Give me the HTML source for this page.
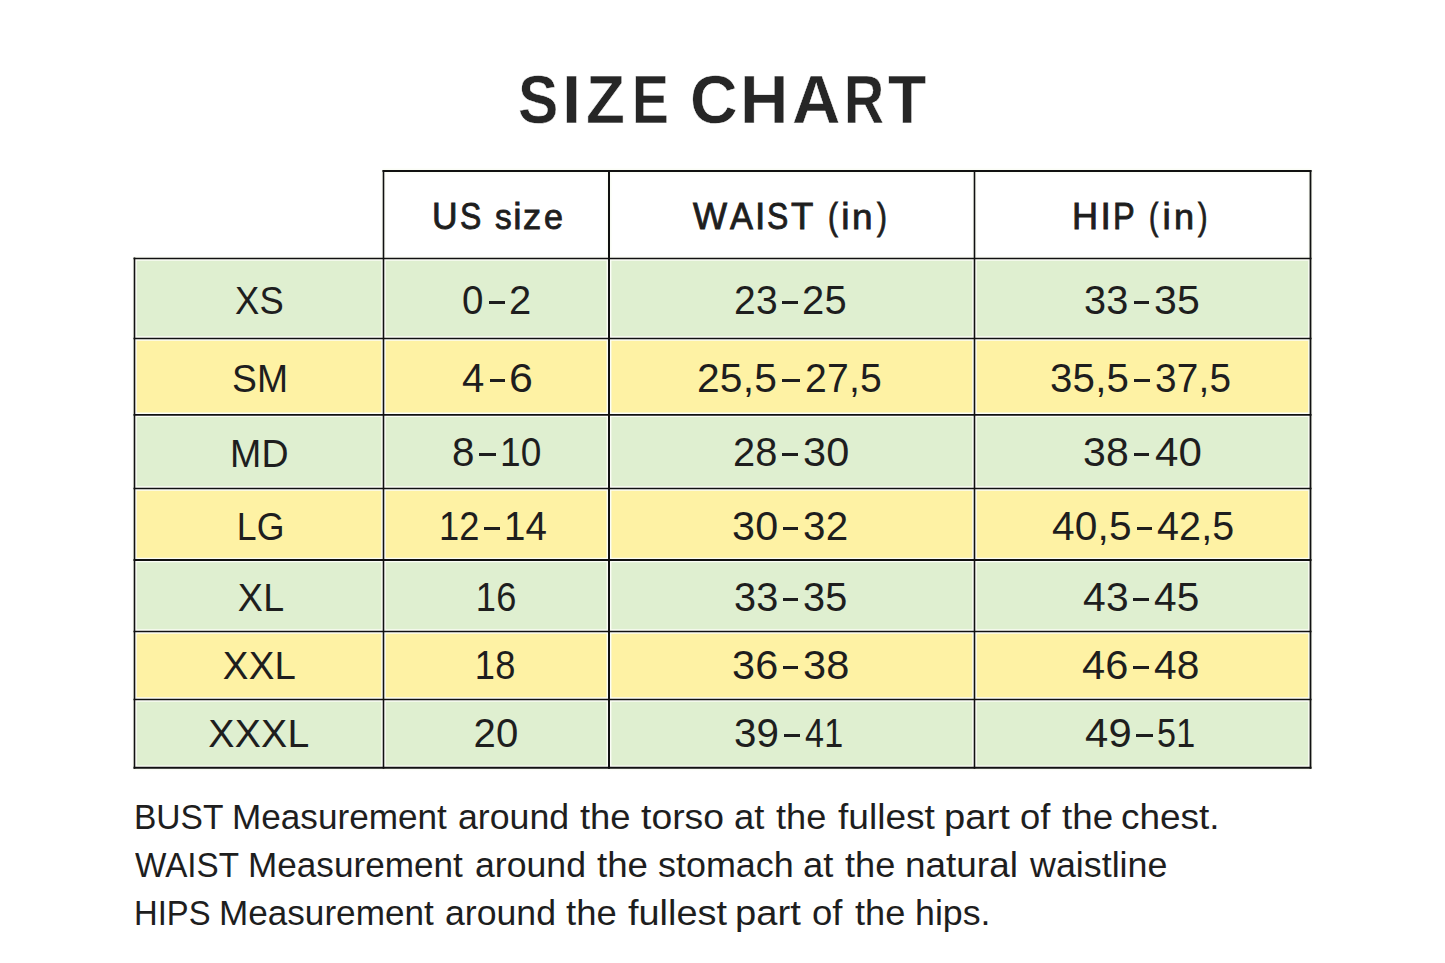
<!DOCTYPE html>
<html><head><meta charset="utf-8"><style>
html,body{margin:0;padding:0;background:#fff;}
body{width:1445px;height:963px;overflow:hidden;position:relative;font-family:"Liberation Sans",sans-serif;color:#1e1e1e;}
svg{position:absolute;left:0;top:0;}
.c{position:absolute;width:600px;text-align:center;white-space:nowrap;line-height:60px;}
.l{position:absolute;white-space:nowrap;line-height:60px;}
.b{font-size:39.5px;letter-spacing:0.2px;}
.bn{font-size:40.0px;letter-spacing:0.2px;}
.hg{position:absolute;line-height:100px;white-space:nowrap;transform-origin:0 0;font-size:37.3px;-webkit-text-stroke:0.9px #1e1e1e;}
.h{font-size:38.2px;letter-spacing:1.2px;-webkit-text-stroke:0.35px #1e1e1e;}
.fw{position:absolute;line-height:100px;white-space:nowrap;transform-origin:0 0;font-size:35.3px;}
.f{font-size:35.3px;letter-spacing:0.3px;}
.ti{position:absolute;line-height:100px;font-size:69.3px;font-weight:bold;color:#262626;-webkit-text-stroke:0.5px #fff;white-space:nowrap;}
.np{position:absolute;line-height:100px;white-space:nowrap;transform-origin:0 0;font-size:40.0px;letter-spacing:0.2px;}
.dd{position:absolute;height:3.1px;background:#1e1e1e;}
.d{display:inline-block;width:16.5px;height:3.1px;background:#1e1e1e;margin:0 4.6px;vertical-align:10.0px;}
</style></head><body>
<svg width="1445" height="963" viewBox="0 0 1445 963">
<rect x="134.5" y="258.5" width="1176.0" height="80.00" fill="#dfefd0"/>
<rect x="134.5" y="338.5" width="1176.0" height="76.35" fill="#fef2a4"/>
<rect x="134.5" y="414.85" width="1176.0" height="73.65" fill="#dfefd0"/>
<rect x="134.5" y="488.5" width="1176.0" height="71.50" fill="#fef2a4"/>
<rect x="134.5" y="560" width="1176.0" height="71.50" fill="#dfefd0"/>
<rect x="134.5" y="631.5" width="1176.0" height="68.00" fill="#fef2a4"/>
<rect x="134.5" y="699.5" width="1176.0" height="68.30" fill="#dfefd0"/>
<line x1="382.5" y1="171" x2="1311.5" y2="171" stroke="#fbfdf6" stroke-width="4.8"/>
<line x1="133.5" y1="258.5" x2="1311.5" y2="258.5" stroke="#fbfdf6" stroke-width="4.4"/>
<line x1="133.5" y1="338.5" x2="1311.5" y2="338.5" stroke="#fbfdf6" stroke-width="4.4"/>
<line x1="133.5" y1="414.85" x2="1311.5" y2="414.85" stroke="#fbfdf6" stroke-width="4.5"/>
<line x1="133.5" y1="488.5" x2="1311.5" y2="488.5" stroke="#fbfdf6" stroke-width="4.4"/>
<line x1="133.5" y1="560" x2="1311.5" y2="560" stroke="#fbfdf6" stroke-width="4.6"/>
<line x1="133.5" y1="631.5" x2="1311.5" y2="631.5" stroke="#fbfdf6" stroke-width="4.3"/>
<line x1="133.5" y1="699.5" x2="1311.5" y2="699.5" stroke="#fbfdf6" stroke-width="4.4"/>
<line x1="133.5" y1="767.8" x2="1311.5" y2="767.8" stroke="#fbfdf6" stroke-width="4.8"/>
<line x1="134.5" y1="257.5" x2="134.5" y2="768.8" stroke="#fbfdf6" stroke-width="4.4"/>
<line x1="383.5" y1="170" x2="383.5" y2="768.8" stroke="#fbfdf6" stroke-width="4.4"/>
<line x1="609" y1="170" x2="609" y2="768.8" stroke="#fbfdf6" stroke-width="4.8"/>
<line x1="974.5" y1="170" x2="974.5" y2="768.8" stroke="#fbfdf6" stroke-width="4.4"/>
<line x1="1310.5" y1="170" x2="1310.5" y2="768.8" stroke="#fbfdf6" stroke-width="4.6"/>
<line x1="382.5" y1="171" x2="1311.5" y2="171" stroke="#111111" stroke-width="2.0"/>
<line x1="133.5" y1="258.5" x2="1311.5" y2="258.5" stroke="#111111" stroke-width="1.6"/>
<line x1="133.5" y1="338.5" x2="1311.5" y2="338.5" stroke="#111111" stroke-width="1.6"/>
<line x1="133.5" y1="414.85" x2="1311.5" y2="414.85" stroke="#111111" stroke-width="1.7"/>
<line x1="133.5" y1="488.5" x2="1311.5" y2="488.5" stroke="#111111" stroke-width="1.6"/>
<line x1="133.5" y1="560" x2="1311.5" y2="560" stroke="#111111" stroke-width="1.8"/>
<line x1="133.5" y1="631.5" x2="1311.5" y2="631.5" stroke="#111111" stroke-width="1.5"/>
<line x1="133.5" y1="699.5" x2="1311.5" y2="699.5" stroke="#111111" stroke-width="1.6"/>
<line x1="133.5" y1="767.8" x2="1311.5" y2="767.8" stroke="#111111" stroke-width="2.0"/>
<line x1="134.5" y1="257.5" x2="134.5" y2="768.8" stroke="#111111" stroke-width="1.6"/>
<line x1="383.5" y1="170" x2="383.5" y2="768.8" stroke="#111111" stroke-width="1.6"/>
<line x1="609" y1="170" x2="609" y2="768.8" stroke="#111111" stroke-width="2.0"/>
<line x1="974.5" y1="170" x2="974.5" y2="768.8" stroke="#111111" stroke-width="1.6"/>
<line x1="1310.5" y1="170" x2="1310.5" y2="768.8" stroke="#111111" stroke-width="1.8"/>
</svg>
<div class="ti" style="left:517.95px;top:48.91px;transform:scale(0.8716,1.0);transform-origin:0 73.69px">S</div>
<div class="ti" style="left:562.0px;top:48.91px;transform:scale(0.9958,1.0);transform-origin:0 73.69px">I</div>
<div class="ti" style="left:586.3px;top:48.91px;transform:scale(0.9194,1.0);transform-origin:0 73.69px">Z</div>
<div class="ti" style="left:631.76px;top:48.91px;transform:scale(0.7971,1.0);transform-origin:0 73.69px">E</div>
<div class="ti" style="left:690.43px;top:48.91px;transform:scale(0.9509,1.0);transform-origin:0 73.69px">C</div>
<div class="ti" style="left:740.14px;top:48.91px;transform:scale(0.967,1.0);transform-origin:0 73.69px">H</div>
<div class="ti" style="left:791.93px;top:48.91px;transform:scale(0.9684,1.0);transform-origin:0 73.69px">A</div>
<div class="ti" style="left:843.54px;top:48.91px;transform:scale(0.8019,1.0);transform-origin:0 73.69px">R</div>
<div class="ti" style="left:887.72px;top:48.91px;transform:scale(0.9041,1.0);transform-origin:0 73.69px">T</div>
<div class="hg" style="left:431.71px;top:165.87px;transform:scaleX(0.9492)">U</div>
<div class="hg" style="left:459.93px;top:165.87px;transform:scaleX(0.8554)">S</div>
<div class="hg" style="left:494.62px;top:165.87px;transform:scale(0.896,0.93);transform-origin:0 63.53px">s</div>
<div class="hg" style="left:513.17px;top:165.87px;transform:scaleX(1.0)">i</div>
<div class="hg" style="left:523.41px;top:165.87px;transform:scale(0.9769,0.93);transform-origin:0 63.53px">z</div>
<div class="hg" style="left:543.55px;top:165.87px;transform:scale(0.9139,0.93);transform-origin:0 63.53px">e</div>
<div class="hg" style="left:693.21px;top:165.87px;transform:scaleX(0.9678)">W</div>
<div class="hg" style="left:730.23px;top:165.87px;transform:scaleX(0.9219)">A</div>
<div class="hg" style="left:754.9px;top:165.87px;transform:scaleX(1.0)">I</div>
<div class="hg" style="left:767.13px;top:165.87px;transform:scaleX(0.8554)">S</div>
<div class="hg" style="left:790.73px;top:165.87px;transform:scaleX(0.9806)">T</div>
<div class="hg" style="left:827.65px;top:165.87px;transform:scaleX(0.7986)">(</div>
<div class="hg" style="left:841.37px;top:165.87px;transform:scaleX(1.0)">i</div>
<div class="hg" style="left:852.41px;top:165.87px;transform:scale(0.9907,0.93);transform-origin:0 63.53px">n</div>
<div class="hg" style="left:877.0px;top:165.87px;transform:scaleX(0.7967)">)</div>
<div class="hg" style="left:1072.39px;top:165.87px;transform:scaleX(0.9689)">H</div>
<div class="hg" style="left:1100.56px;top:165.87px;transform:scaleX(1.0)">I</div>
<div class="hg" style="left:1113.04px;top:165.87px;transform:scaleX(0.8729)">P</div>
<div class="hg" style="left:1149.23px;top:165.87px;transform:scaleX(0.75)">(</div>
<div class="hg" style="left:1162.62px;top:165.87px;transform:scaleX(1.0)">i</div>
<div class="hg" style="left:1173.75px;top:165.87px;transform:scale(0.9674,0.93);transform-origin:0 63.53px">n</div>
<div class="hg" style="left:1198.09px;top:165.87px;transform:scaleX(0.7601)">)</div>
<div class="c b" style="left:-41.00px;top:270.01px;transform:translateX(2.46px) scaleX(0.9208);transform-origin:274.74px 0">XS</div>
<div class="np" style="left:462.25px;top:249.7px;transform:scaleX(0.9628)">0</div>
<div class="np" style="left:509.1px;top:249.7px;transform:scaleX(0.9984)">2</div>
<div class="dd" style="left:488.5px;width:16.20px;top:300.60px"></div>
<div class="np" style="left:733.65px;top:249.7px;transform:scaleX(0.9748)">23</div>
<div class="np" style="left:802.4px;top:249.7px;transform:scaleX(0.9978)">25</div>
<div class="dd" style="left:782px;width:16.00px;top:300.60px"></div>
<div class="np" style="left:1084.38px;top:249.7px;transform:scaleX(0.9925)">33</div>
<div class="np" style="left:1153.63px;top:249.7px;transform:scaleX(1.0251)">35</div>
<div class="dd" style="left:1133.5px;width:15.60px;top:300.60px"></div>
<div class="c b" style="left:-41.00px;top:347.91px;transform:translateX(2.63px) scaleX(0.9439);transform-origin:272.37px 0">SM</div>
<div class="np" style="left:462.45px;top:327.6px;transform:scaleX(1.0015)">4</div>
<div class="np" style="left:509.45px;top:327.6px;transform:scaleX(1.0741)">6</div>
<div class="dd" style="left:490px;width:15.20px;top:378.50px"></div>
<div class="np" style="left:697.46px;top:327.6px;transform:scaleX(1.0189)">25,5</div>
<div class="np" style="left:804.94px;top:327.6px;transform:scaleX(0.979)">27,5</div>
<div class="dd" style="left:782.3px;width:18.20px;top:378.50px"></div>
<div class="np" style="left:1049.66px;top:327.6px;transform:scaleX(1.006)">35,5</div>
<div class="np" style="left:1154.72px;top:327.6px;transform:scaleX(0.9688)">37,5</div>
<div class="dd" style="left:1133.5px;width:16.60px;top:378.50px"></div>
<div class="c b" style="left:-41.00px;top:422.61px;transform:translateX(1.71px) scaleX(0.9504);transform-origin:272.29px 0">MD</div>
<div class="np" style="left:451.55px;top:402.3px;transform:scaleX(1.0085)">8</div>
<div class="np" style="left:499.61px;top:402.3px;transform:scaleX(0.926)">10</div>
<div class="dd" style="left:478.6px;width:17.40px;top:453.20px"></div>
<div class="np" style="left:733.11px;top:402.3px;transform:scaleX(0.9937)">28</div>
<div class="np" style="left:802.81px;top:402.3px;transform:scaleX(1.0368)">30</div>
<div class="dd" style="left:782.3px;width:16.00px;top:453.20px"></div>
<div class="np" style="left:1082.93px;top:402.3px;transform:scaleX(1.0258)">38</div>
<div class="np" style="left:1154.51px;top:402.3px;transform:scaleX(1.0506)">40</div>
<div class="dd" style="left:1133.5px;width:15.60px;top:453.20px"></div>
<div class="c b" style="left:-41.00px;top:496.11px;transform:translateX(4.05px) scaleX(0.9025);transform-origin:276.75px 0">LG</div>
<div class="np" style="left:438.96px;top:475.8px;transform:scaleX(0.9064)">12</div>
<div class="np" style="left:503.8px;top:475.8px;transform:scaleX(0.9624)">14</div>
<div class="dd" style="left:484.3px;width:16.00px;top:526.70px"></div>
<div class="np" style="left:731.91px;top:475.8px;transform:scaleX(1.032)">30</div>
<div class="np" style="left:803.05px;top:475.8px;transform:scaleX(1.0087)">32</div>
<div class="dd" style="left:782.9px;width:15.60px;top:526.70px"></div>
<div class="np" style="left:1051.94px;top:475.8px;transform:scaleX(1.0153)">40,5</div>
<div class="np" style="left:1157.26px;top:475.8px;transform:scaleX(0.9852)">42,5</div>
<div class="dd" style="left:1136.5px;width:15.30px;top:526.70px"></div>
<div class="c b" style="left:-41.00px;top:567.11px;transform:translateX(3.12px) scaleX(0.9535);transform-origin:276.88px 0">XL</div>
<div class="c bn" style="left:196.25px;top:566.93px;transform:translateX(2.03px) scaleX(0.9059);transform-origin:280.52px 0">16</div>
<div class="np" style="left:733.78px;top:546.8px;transform:scaleX(0.9925)">33</div>
<div class="np" style="left:803.09px;top:546.8px;transform:scaleX(0.9913)">35</div>
<div class="dd" style="left:782.9px;width:15.60px;top:597.70px"></div>
<div class="np" style="left:1082.63px;top:546.8px;transform:scaleX(1.0192)">43</div>
<div class="np" style="left:1154.14px;top:546.8px;transform:scaleX(1.0156)">45</div>
<div class="dd" style="left:1132.9px;width:15.80px;top:597.70px"></div>
<div class="c b" style="left:-41.00px;top:635.11px;transform:translateX(1.46px) scaleX(0.9716);transform-origin:263.54px 0">XXL</div>
<div class="c bn" style="left:196.25px;top:634.93px;transform:translateX(1.01px) scaleX(0.9060);transform-origin:280.54px 0">18</div>
<div class="np" style="left:731.91px;top:614.8px;transform:scaleX(1.0357)">36</div>
<div class="np" style="left:803.0px;top:614.8px;transform:scaleX(1.0379)">38</div>
<div class="dd" style="left:782.9px;width:15.60px;top:665.70px"></div>
<div class="np" style="left:1081.72px;top:614.8px;transform:scaleX(1.0402)">46</div>
<div class="np" style="left:1154.14px;top:614.8px;transform:scaleX(1.0163)">48</div>
<div class="dd" style="left:1132.9px;width:15.80px;top:665.70px"></div>
<div class="c b" style="left:-41.00px;top:703.21px;transform:translateX(0.26px) scaleX(0.9925);transform-origin:250.34px 0">XXXL</div>
<div class="c bn" style="left:196.25px;top:703.03px;transform:translateX(0.03px) scaleX(1.0029);transform-origin:279.52px 0">20</div>
<div class="np" style="left:734.46px;top:682.9px;transform:scaleX(1.0077)">39</div>
<div class="np" style="left:805.38px;top:682.9px;transform:scaleX(0.8525)">41</div>
<div class="dd" style="left:784.2px;width:15.60px;top:733.80px"></div>
<div class="np" style="left:1084.61px;top:682.9px;transform:scaleX(1.0435)">49</div>
<div class="np" style="left:1157.35px;top:682.9px;transform:scaleX(0.8531)">51</div>
<div class="dd" style="left:1135.9px;width:16.70px;top:733.80px"></div>
<div class="fw" style="left:133.51px;top:767.3px;transform:scaleX(0.95)">BUST</div>
<div class="fw" style="left:231.78px;top:767.3px;transform:scaleX(0.9954)">Measurement</div>
<div class="fw" style="left:458.31px;top:767.3px;transform:scaleX(1.0105)">around</div>
<div class="fw" style="left:580.21px;top:767.3px;transform:scaleX(1.0306)">the</div>
<div class="fw" style="left:641.2px;top:767.3px;transform:scaleX(1.0581)">torso</div>
<div class="fw" style="left:733.58px;top:767.3px;transform:scaleX(1.0316)">at</div>
<div class="fw" style="left:776.02px;top:767.3px;transform:scaleX(1.0242)">the</div>
<div class="fw" style="left:837.54px;top:767.3px;transform:scaleX(1.0506)">fullest</div>
<div class="fw" style="left:944.35px;top:767.3px;transform:scaleX(1.0815)">part</div>
<div class="fw" style="left:1020.02px;top:767.3px;transform:scaleX(1.0306)">of</div>
<div class="fw" style="left:1061.71px;top:767.3px;transform:scaleX(1.0412)">the</div>
<div class="fw" style="left:1121.3px;top:767.3px;transform:scaleX(1.0471)">chest.</div>
<div class="fw" style="left:134.66px;top:815.0px;transform:scaleX(0.9425)">WAIST</div>
<div class="fw" style="left:247.98px;top:815.0px;transform:scaleX(0.9954)">Measurement</div>
<div class="fw" style="left:475.32px;top:815.0px;transform:scaleX(1.0095)">around</div>
<div class="fw" style="left:596.81px;top:815.0px;transform:scaleX(1.0391)">the</div>
<div class="fw" style="left:657.75px;top:815.0px;transform:scaleX(1.0175)">stomach</div>
<div class="fw" style="left:802.89px;top:815.0px;transform:scaleX(1.028)">at</div>
<div class="fw" style="left:844.92px;top:815.0px;transform:scaleX(1.0242)">the</div>
<div class="fw" style="left:905.27px;top:815.0px;transform:scaleX(1.0459)">natural</div>
<div class="fw" style="left:1029.99px;top:815.0px;transform:scaleX(1.0151)">waistline</div>
<div class="fw" style="left:133.57px;top:862.5px;transform:scaleX(0.9285)">HIPS</div>
<div class="fw" style="left:219.38px;top:862.5px;transform:scaleX(0.9949)">Measurement</div>
<div class="fw" style="left:445.42px;top:862.5px;transform:scaleX(1.0095)">around</div>
<div class="fw" style="left:566.41px;top:862.5px;transform:scaleX(1.0327)">the</div>
<div class="fw" style="left:627.53px;top:862.5px;transform:scaleX(1.0735)">fullest</div>
<div class="fw" style="left:735.15px;top:862.5px;transform:scaleX(1.0815)">part</div>
<div class="fw" style="left:812.42px;top:862.5px;transform:scaleX(1.0341)">of</div>
<div class="fw" style="left:854.92px;top:862.5px;transform:scaleX(1.0242)">the</div>
<div class="fw" style="left:915.27px;top:862.5px;transform:scaleX(1.0128)">hips.</div>
</body></html>
